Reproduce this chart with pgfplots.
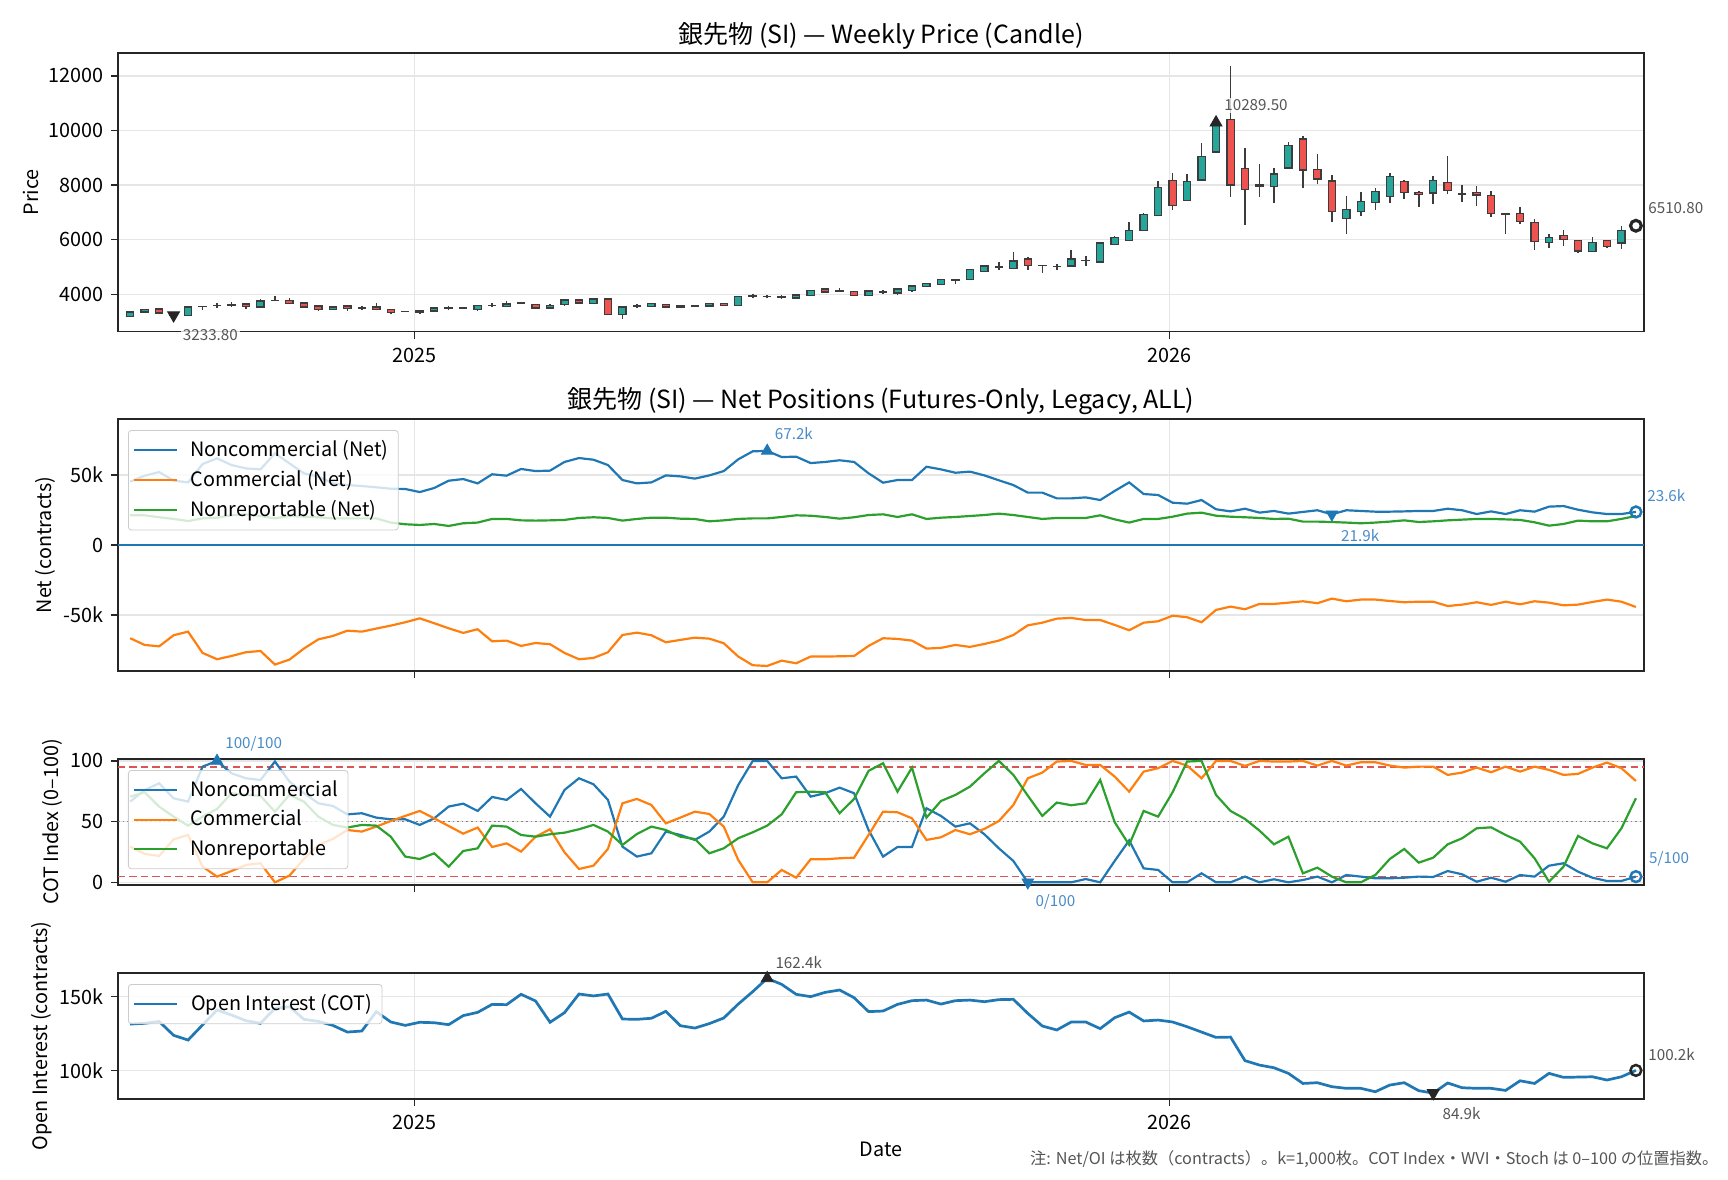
\documentclass[border=0pt]{standalone}
\usepackage{fontspec}
\setmainfont{Noto Sans CJK JP}
\usepackage{pgfplots}
\pgfplotsset{compat=1.18}
\usepackage{pgfplotstable}

\definecolor{tabblue}{HTML}{1F77B4}
\definecolor{taborange}{HTML}{FF7F0E}
\definecolor{tabgreen}{HTML}{2CA02C}
\definecolor{upc}{HTML}{26A69A}
\definecolor{dnc}{HTML}{EF5350}
\definecolor{edgec}{HTML}{3C3C3C}
\definecolor{gridc}{HTML}{E6E6E6}
\definecolor{axc}{HTML}{262626}
\definecolor{annc}{HTML}{555555}
\definecolor{annbc}{HTML}{4A8CC8}
\definecolor{refred}{HTML}{DB5555}

\pgfplotstableread{
i o h l c
0 3193 3370 3170 3352
1 3352 3450 3340 3437
2 3462 3470 3300 3315
3 3315 3340 3220 3233.8
4 3230 3560 3205 3535
5 3540 3572 3437 3560
6 3590 3682 3500 3600
7 3600 3720 3535 3630
8 3645 3650 3462 3560
9 3535 3830 3500 3755
10 3770 3927 3760 3780
11 3780 3878 3650 3658
12 3682 3706 3500 3535
13 3572 3580 3390 3437
14 3450 3545 3440 3535
15 3572 3580 3400 3474
16 3510 3560 3437 3500
17 3535 3682 3430 3437
18 3450 3460 3290 3340
19 3370 3380 3350 3360
20 3390 3400 3290 3330
21 3390 3535 3360 3500
22 3490 3572 3413 3510
23 3490 3510 3480 3500
24 3437 3600 3390 3596
25 3590 3670 3535 3600
26 3560 3767 3555 3645
27 3660 3720 3633 3680
28 3633 3640 3474 3500
29 3500 3633 3474 3596
30 3621 3816 3572 3792
31 3792 3830 3658 3682
32 3670 3878 3660 3830
33 3830 3853 3230 3266
34 3266 3545 3107 3535
35 3560 3633 3500 3580
36 3560 3682 3550 3658
37 3621 3630 3520 3535
38 3535 3600 3520 3590
39 3560 3600 3530 3575
40 3572 3690 3560 3670
41 3657 3670 3590 3596
42 3596 3940 3590 3927
43 3930 4000 3880 3940
44 3920 3990 3880 3930
45 3900 3960 3830 3910
46 3865 3990 3830 3976
47 3950 4160 3927 4147
48 4196 4200 4060 4086
49 4120 4245 4110 4125
50 4110 4120 3950 3963
51 3963 4130 3950 4122
52 4080 4147 4025 4090
53 4050 4200 3963 4196
54 4147 4310 4100 4306
55 4294 4410 4280 4391
56 4367 4545 4360 4538
57 4500 4538 4390 4520
58 4550 4910 4540 4905
59 4844 5050 4830 5040
60 4990 5186 4905 5010
61 4942 5553 4920 5223
62 5296 5370 4905 5064
63 5060 5064 4795 5050
64 5010 5100 4905 5030
65 5040 5639 5030 5296
66 5230 5394 5050 5250
67 5186 5920 5150 5883
68 5822 6128 5800 6067
69 5981 6654 5957 6348
70 6348 6960 6340 6923
71 6899 8146 6874 7901
72 8158 8427 7106 7265
73 7437 8391 7437 8122
74 8183 9528 8158 9039
75 9210 10300 9200 10289.5
76 10400 12365 7571 8000
77 8598 9344 6556 7852
78 8000 8757 7547 7970
79 7938 8611 7351 8403
80 8623 9565 8600 9442
81 9687 9809 7901 8550
82 8562 9124 8048 8219
83 8146 8354 6654 7045
84 6776 7596 6226 7094
85 7045 7730 6874 7388
86 7363 7877 7106 7755
87 7596 8427 7351 8305
88 8122 8170 7498 7742
89 7718 7791 7204 7650
90 7706 8330 7314 8158
91 8085 9051 7669 7804
92 7675 7987 7375 7660
93 7720 7963 7241 7640
94 7608 7779 6837 6960
95 6950 6980 6226 6930
96 6947 7180 6581 6654
97 6617 6740 5614 5932
98 5896 6226 5700 6091
99 6140 6373 5786 6006
100 5981 5990 5517 5590
101 5578 6104 5570 5896
102 5981 5990 5712 5761
103 5883 6519 5663 6348
}\candles
\pgfplotstablecreatecol[create col/expr={min(\thisrow{o},\thisrow{c})}]{base}\candles
\pgfplotstablecreatecol[create col/expr={max(\thisrow{c}-\thisrow{o},0)}]{up}\candles
\pgfplotstablecreatecol[create col/expr={max(\thisrow{o}-\thisrow{c},0)}]{dn}\candles
\pgfplotstablecreatecol[create col/expr={\thisrow{h}-\thisrow{l}}]{hl}\candles

% net positions (k contracts): noncommercial, commercial, nonreportable
\pgfplotstableread{
i nc cm nr
0 45.2 -66.6 21.2
1 49.5 -71.4 21.2
2 52.1 -72.4 19.8
3 46.0 -64.5 18.6
4 44.7 -61.9 17.1
5 57.8 -77.1 19.0
6 61.9 -81.6 19.5
7 57.1 -79.3 21.2
8 54.7 -76.6 21.9
9 54.0 -75.7 20.7
10 65.5 -85.4 19.0
11 58.3 -81.9 20.7
12 51.2 -74.0 20.2
13 48.8 -67.4 19.8
14 44.0 -65.0 19.0
15 42.8 -61.2 19.0
16 42.1 -61.9 19.0
17 41.2 -59.7 19.0
18 40.2 -57.6 16.0
19 40.0 -55.2 14.8
20 37.8 -52.4 14.3
21 40.7 -55.9 15.0
22 45.9 -59.5 13.6
23 47.1 -62.8 15.5
24 44.0 -60.2 16.0
25 50.5 -68.8 18.6
26 49.5 -68.3 18.6
27 54.3 -72.1 17.6
28 52.8 -70.0 17.4
29 53.1 -70.9 17.6
30 59.3 -77.1 17.9
31 62.1 -81.6 19.3
32 60.9 -80.7 19.8
33 57.1 -76.6 19.3
34 46.4 -64.3 17.4
35 44.0 -62.6 18.6
36 44.7 -64.5 19.5
37 49.7 -69.5 19.5
38 49.0 -67.8 18.8
39 47.4 -66.2 18.6
40 49.7 -66.9 16.9
41 52.8 -70.2 17.6
42 61.2 -79.7 18.6
43 66.9 -85.9 19.0
44 67.2 -86.4 19.0
45 62.8 -82.6 20.0
46 63.1 -84.5 21.2
47 58.5 -79.7 20.9
48 59.3 -79.7 20.0
49 60.5 -79.5 18.8
50 59.3 -79.3 19.8
51 51.2 -72.1 21.4
52 44.5 -66.6 21.9
53 46.4 -67.1 20.0
54 46.4 -68.3 21.9
55 55.9 -74.0 18.6
56 54.0 -73.5 19.5
57 51.6 -71.4 20.0
58 52.4 -72.8 20.7
59 49.7 -70.7 21.4
60 46.2 -68.3 22.4
61 42.8 -64.3 21.4
62 37.4 -57.4 20.0
63 37.4 -55.5 18.6
64 33.3 -52.6 19.3
65 33.3 -52.1 19.3
66 34.0 -53.6 19.3
67 32.1 -53.6 21.2
68 38.6 -57.1 18.3
69 44.7 -60.9 16.0
70 36.4 -55.5 18.6
71 35.7 -54.5 18.6
72 30.2 -50.5 20.2
73 29.5 -51.6 22.4
74 32.1 -55.2 23.1
75 25.5 -46.4 20.9
76 24.0 -44.0 20.2
77 25.9 -45.9 19.8
78 23.1 -42.1 19.3
79 24.3 -42.1 18.6
80 22.4 -41.2 18.8
81 23.6 -40.2 16.7
82 24.8 -41.6 16.7
83 21.9 -38.3 16.4
84 24.8 -40.2 16.0
85 24.3 -39.0 15.5
86 23.8 -39.0 16.0
87 23.8 -40.0 16.7
88 24.0 -40.9 17.6
89 24.3 -40.5 16.4
90 24.3 -40.5 16.9
91 25.9 -43.6 17.6
92 24.8 -42.6 18.1
93 22.1 -40.9 18.6
94 24.0 -42.8 18.6
95 22.1 -40.5 18.3
96 24.8 -42.4 17.9
97 23.8 -40.2 16.2
98 27.4 -41.2 13.8
99 27.8 -43.1 15.0
100 25.2 -42.6 17.4
101 23.3 -40.7 16.9
102 22.1 -39.0 16.9
103 22.1 -40.5 18.6
104 23.6 -44.3 20.7
}\net

% COT index (0-100)
\pgfplotstableread{
i nc cm nr
0 66.5 29.4 70.6
1 76.0 23.4 74.2
2 81.6 21.7 62.4
3 69.2 35.4 54.1
4 66.5 39.0 46.7
5 95.3 12.9 54.1
6 100 4.7 60.4
7 89.8 9.3 73.4
8 85.7 14.3 72.0
9 84.3 15.7 71.2
10 99.5 0 58.2
11 83.0 5.5 72.0
12 73.4 19.2 66.5
13 65.1 30.8 54.1
14 62.9 35.7 47.3
15 56.0 43.1 45.1
16 56.9 41.8 47.3
17 53.3 45.9 46.7
18 51.9 50.5 37.6
19 51.9 54.7 21.2
20 47.3 58.8 19.2
21 52.7 52.7 23.9
22 62.4 46.4 12.9
23 64.8 40.1 25.8
24 58.8 45.1 28.0
25 70.3 29.1 46.7
26 67.9 32.1 45.9
27 76.9 25.3 39.0
28 65.1 37.6 37.6
29 54.1 43.7 39.6
30 76.1 24.7 40.9
31 85.7 11.0 43.7
32 80.8 13.7 47.3
33 67.9 27.5 41.8
34 29.4 65.1 30.8
35 21.2 68.7 39.8
36 23.9 63.7 45.9
37 41.8 48.6 43.1
38 39.0 53.3 37.6
39 34.9 58.2 35.7
40 41.8 56.3 23.9
41 54.1 45.9 28.0
42 80.2 18.4 36.3
43 100 0 41.2
44 100 0 46.7
45 85.7 10.2 56.0
46 87.1 3.8 74.2
47 70.6 19.0 74.7
48 73.4 19.0 74.2
49 78.0 19.8 56.9
50 73.4 20.3 68.7
51 43.1 39.0 91.8
52 21.2 58.2 98.1
53 29.1 57.7 74.7
54 29.1 52.7 94.5
55 61.0 34.9 53.3
56 54.7 37.1 67.0
57 45.9 43.1 72.0
58 48.6 39.6 78.8
59 39.6 44.0 89.8
60 28.0 50.5 100
61 17.6 63.7 88.5
62 0 85.7 71.4
63 0 90.4 54.7
64 0 99.5 65.7
65 0 100 63.5
66 2.7 96.7 65.1
67 0 96.7 84.3
68 17.6 87.1 49.5
69 34.5 74.7 30.9
70 11.5 91.2 58.8
71 10.2 94.0 54.1
72 0 100 74.2
73 0 96.2 99.5
74 7.4 85.7 100
75 0 100 72.0
76 0 100 58.8
77 4.7 95.9 52.2
78 0 100 42.6
79 2.5 99.5 31.3
80 0 99.5 37.6
81 1.9 100 7.4
82 4.7 96.2 12.1
83 0 100 4.7
84 6.0 96.2 0
85 4.7 98.9 0
86 3.3 98.9 6.0
87 3.3 96.2 19.2
88 3.8 94.5 27.5
89 4.7 95.3 16.2
90 4.4 95.3 20.3
91 9.3 88.5 31.3
92 6.6 90.4 36.3
93 0.5 94.5 44.5
94 3.8 90.7 45.3
95 0.5 95.3 39.0
96 6.0 91.2 33.5
97 4.7 95.3 19.8
98 13.7 92.6 0.5
99 15.7 88.5 12.9
100 8.8 89.3 38.2
101 3.8 94.5 32.1
102 1.1 98.6 28.0
103 1.1 94.0 44.5
104 4.7 83.5 69.2
}\cot

% open interest (k contracts)
\pgfplotstableread{
i oi
0 131.5
1 132.0
2 133.3
3 123.9
4 120.7
5 130.9
6 141.0
7 137.6
8 133.8
9 132.0
10 142.1
11 143.2
12 134.7
13 133.3
14 130.6
15 126.1
16 126.8
17 139.9
18 132.9
19 130.6
20 132.7
21 132.4
22 131.1
23 137.2
24 139.4
25 144.8
26 144.6
27 151.6
28 147.1
29 132.7
30 139.2
31 151.8
32 150.5
33 151.8
34 134.9
35 134.7
36 135.4
37 140.1
38 130.4
39 128.8
40 131.8
41 135.6
42 145.0
43 153.4
44 162.4
45 158.3
46 151.6
47 150.0
48 152.9
49 154.5
50 149.3
51 139.9
52 140.3
53 144.8
54 147.3
55 147.7
56 145.0
57 147.3
58 147.7
59 146.6
60 148.0
61 148.2
62 138.7
63 130.2
64 127.5
65 132.9
66 132.9
67 128.4
68 135.8
69 139.6
70 133.6
71 134.2
72 132.9
73 129.7
74 126.1
75 122.5
76 122.7
77 106.8
78 103.8
79 102.0
80 98.2
81 91.4
82 91.9
83 89.2
84 88.1
85 88.1
86 85.8
87 90.3
88 91.9
89 86.5
90 84.9
91 91.7
92 88.5
93 88.1
94 88.1
95 86.7
96 93.2
97 91.4
98 98.2
99 95.5
100 95.7
101 95.9
102 93.7
103 95.9
104 100.2
}\oi

\tikzset{
  anngray/.style={font=\fontsize{7.3}{8.8}\selectfont, text=annc, fill=white, fill opacity=0.75, text opacity=1, inner sep=1pt},
  annblue/.style={font=\fontsize{7.3}{8.8}\selectfont, text=annbc, fill=white, fill opacity=0.75, text opacity=1, inner sep=1pt},
}

\pgfplotsset{
  every axis title/.style={at={(0.5,1)}, anchor=south, yshift=-1.6pt, font=\fontsize{12}{14}\selectfont},
  panel/.style={
    scale only axis, width=732.48pt,
    xmin=-0.84, xmax=104.56,
    xtick={19.65,71.8},
    scaled x ticks=false, scaled y ticks=false,
    axis line style={draw=axc, line width=0.75pt},
    tick style={draw=axc, line width=0.6pt},
    tick align=outside, major tick length=3.4pt,
    xtick pos=left, ytick pos=left,
    xmajorgrids, ymajorgrids,
    major grid style={draw=gridc, line width=0.6pt},
    tick label style={font=\fontsize{9.5}{11.4}\selectfont},
    xticklabel style={yshift=-0.8pt},
    label style={font=\fontsize{9.5}{11.4}\selectfont},
    clip mode=individual,
    legend cell align=left,
    legend image code/.code={\draw[##1] (0cm,0cm) -- (0.72cm,0cm);},
    legend style={at={(0,1)}, anchor=north west, xshift=4.8pt, yshift=-5.3pt,
      fill=white, fill opacity=0.8, draw opacity=1, text opacity=1,
      draw=black!20, rounded corners=1.5pt, font=\fontsize{9.5}{11.4}\selectfont,
      inner sep=2.2pt, nodes={inner sep=2.6pt},
      /tikz/every odd column/.append style={column sep=3.5pt}},
    /pgf/number format/assume math mode=true,
  },
  over/.style={scale only axis, width=732.48pt, xmin=-0.84, xmax=104.56,
    hide axis, clip mode=individual},
}

\begin{document}
\begin{tikzpicture}
\useasboundingbox (0,0) rectangle (829.44pt,566.4pt);

% ---------- Panel 1: candles ----------
\begin{axis}[panel, at={(56.64pt,407.18pt)}, anchor=south west, height=133.78pt,
  ymin=2630, ymax=12840, ytick={4000,6000,8000,10000,12000},
  yticklabels={4000,6000,8000,10000,12000}, xticklabels={2025,2026},
  title={銀先物 (SI) — Weekly Price (Candle)},
  ylabel={Price}, ylabel style={at={(axis description cs:-0.0570,0.5)}, anchor=center}]
\addplot[draw=none, mark=none, forget plot,
  error bars/.cd, y dir=plus, y explicit, error mark=none,
  error bar style={draw=edgec, line width=0.75pt}]
  table[x=i, y=l, y error=hl]{\candles};
\end{axis}
\begin{axis}[over, at={(56.64pt,407.18pt)}, anchor=south west, height=133.78pt,
  ymin=2630, ymax=12840, ybar stacked, bar width=0.5]
\addplot[draw=none, fill=none] table[x=i, y=base]{\candles};
\addplot[draw=edgec, line width=0.6pt, fill=upc] table[x=i, y=up]{\candles};
\addplot[draw=edgec, line width=0.6pt, fill=dnc] table[x=i, y=dn]{\candles};
\end{axis}
\begin{axis}[over, at={(56.64pt,407.18pt)}, anchor=south west, height=133.78pt,
  ymin=2630, ymax=12840]
\addplot[only marks, mark=triangle*, mark size=3.3pt, color=axc, mark options={rotate=180}] coordinates {(3,3233.8)};
\addplot[only marks, mark=triangle*, mark size=3.3pt, color=axc] coordinates {(75,10289.5)};
\addplot[only marks, mark=o, mark size=2.6pt, color=axc, mark options={line width=1.5pt}] coordinates {(104,6510.8)};
\node[anngray, anchor=west, xshift=3.3pt, yshift=-9.3pt] at (axis cs:3,3233.8) {3233.80};
\node[anngray, anchor=west, xshift=2.8pt, yshift=8.3pt] at (axis cs:75,10289.5) {10289.50};
\node[anngray, anchor=west, xshift=4.8pt, yshift=8.3pt] at (axis cs:104,6510.8) {6510.80};
\end{axis}

% ---------- Panel 2: net positions ----------
\begin{axis}[panel, at={(56.64pt,244.32pt)}, anchor=south west, height=120.96pt,
  ymin=-90, ymax=90, ytick={-50,0,50}, yticklabels={-50k,0,50k}, xticklabels={},
  title={銀先物 (SI) — Net Positions (Futures-Only, Legacy, ALL)},
  ylabel={Net (contracts)}, ylabel style={at={(axis description cs:-0.0478,0.5)}, anchor=center}]
\addplot[tabblue, line width=0.6pt, forget plot] coordinates {(-0.84,0) (104.56,0)};
\addplot[tabblue, line width=1.05pt] table[x=i, y=nc]{\net};
\addlegendentry{Noncommercial (Net)}
\addplot[taborange, line width=1.05pt] table[x=i, y=cm]{\net};
\addlegendentry{Commercial (Net)}
\addplot[tabgreen, line width=1.05pt] table[x=i, y=nr]{\net};
\addlegendentry{Nonreportable (Net)}
\addplot[only marks, mark=triangle*, mark size=3.2pt, color=tabblue, forget plot] coordinates {(44,67.2)};
\addplot[only marks, mark=triangle*, mark size=3.2pt, color=tabblue, mark options={rotate=180}, forget plot] coordinates {(83,21.9)};
\addplot[only marks, mark=o, mark size=2.6pt, color=tabblue, mark options={line width=1.2pt}, forget plot] coordinates {(104,23.6)};
\node[annblue, anchor=west, xshift=2.5pt, yshift=8.2pt] at (axis cs:44,67.2) {67.2k};
\node[annblue, anchor=west, xshift=3.3pt, yshift=-10pt] at (axis cs:83,21.9) {21.9k};
\node[annblue, anchor=west, xshift=4.3pt, yshift=7.7pt] at (axis cs:104,23.6) {23.6k};
\end{axis}

% ---------- Panel 3: COT index ----------
\begin{axis}[panel, at={(56.64pt,141.6pt)}, anchor=south west, height=60.48pt,
  ymin=-2.2, ymax=101.6, ytick={0,50,100}, yticklabels={0,50,100}, xticklabels={},
  ylabel={COT Index (0–100)}, ylabel style={at={(axis description cs:-0.0433,0.5)}, anchor=center}]
\addplot[refred, line width=0.7pt, dash pattern=on 3.5pt off 2pt, forget plot] coordinates {(-0.84,95) (104.56,95)};
\addplot[refred, line width=0.7pt, dash pattern=on 3.5pt off 2pt, forget plot] coordinates {(-0.84,5) (104.56,5)};
\addplot[black!50, line width=0.7pt, dash pattern=on 0.8pt off 1.4pt, forget plot] coordinates {(-0.84,50) (104.56,50)};
\addplot[tabblue, line width=1.05pt] table[x=i, y=nc]{\cot};
\addlegendentry{Noncommercial}
\addplot[taborange, line width=1.05pt] table[x=i, y=cm]{\cot};
\addlegendentry{Commercial}
\addplot[tabgreen, line width=1.05pt] table[x=i, y=nr]{\cot};
\addlegendentry{Nonreportable}
\addplot[only marks, mark=triangle*, mark size=3.2pt, color=tabblue, forget plot] coordinates {(6,100)};
\addplot[only marks, mark=triangle*, mark size=3.2pt, color=tabblue, mark options={rotate=180}, forget plot] coordinates {(62,0)};
\addplot[only marks, mark=o, mark size=2.6pt, color=tabblue, mark options={line width=1.2pt}, forget plot] coordinates {(104,4.7)};
\node[annblue, anchor=west, xshift=2.8pt, yshift=8.2pt] at (axis cs:6,100) {100/100};
\node[annblue, anchor=west, xshift=2.5pt, yshift=-9.2pt] at (axis cs:62,0) {0/100};
\node[annblue, anchor=west, xshift=5.2pt, yshift=8.4pt] at (axis cs:104,4.7) {5/100};
\end{axis}

% ---------- Panel 4: open interest ----------
\begin{axis}[panel, at={(56.64pt,38.88pt)}, anchor=south west, height=60.48pt,
  ymin=80.9, ymax=166, ytick={100,150}, yticklabels={100k,150k}, xticklabels={2025,2026},
  xlabel={Date}, xlabel style={at={(axis description cs:0.5,-0.40)}, anchor=center},
  ylabel={Open Interest (contracts)}, ylabel style={at={(axis description cs:-0.0498,0.5)}, anchor=center}]
\addplot[tabblue, line width=1.3pt] table[x=i, y=oi]{\oi};
\addlegendentry{Open Interest (COT)}
\addplot[only marks, mark=triangle*, mark size=3.3pt, color=axc, forget plot] coordinates {(44,162.4)};
\addplot[only marks, mark=triangle*, mark size=3.3pt, color=axc, mark options={rotate=180}, forget plot] coordinates {(90,84.9)};
\addplot[only marks, mark=o, mark size=2.6pt, color=axc, mark options={line width=1.2pt}, forget plot] coordinates {(104,100.2)};
\node[anngray, anchor=west, xshift=2.8pt, yshift=7.7pt] at (axis cs:44,162.4) {162.4k};
\node[anngray, anchor=west, xshift=3.3pt, yshift=-9.6pt] at (axis cs:90,84.9) {84.9k};
\node[anngray, anchor=west, xshift=4.8pt, yshift=7.7pt] at (axis cs:104,100.2) {100.2k};
\end{axis}

\node[anchor=east, inner sep=0pt, font=\fontsize{7.8}{9.4}\selectfont, text=annc] at (825pt,10.08pt)
  {注: Net/OI は枚数（contracts）。k=1,000枚。COT Index・WVI・Stoch は 0–100 の位置指数。};
\end{tikzpicture}
\end{document}
